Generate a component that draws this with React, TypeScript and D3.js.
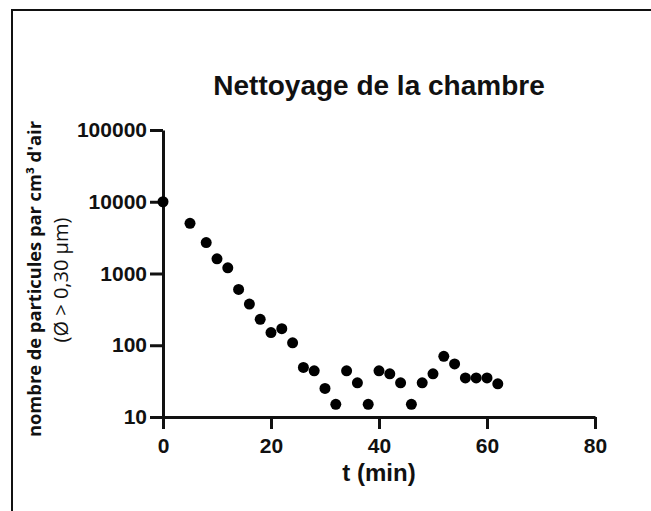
import * as d3 from "d3";
import React, { useEffect, useRef } from "react";

// temps (min) et nombre de particules mesurées
const times = [0, 5, 8, 10, 12, 14, 16, 18, 20, 22, 24, 26, 28, 30, 32, 34, 36, 38, 40, 42, 44, 46, 48, 50, 52, 54, 56, 58, 60, 62];
const counts = [10000, 5000, 2700, 1600, 1200, 600, 375, 230, 150, 170, 108, 49, 44, 25, 15, 44, 30, 15, 44, 40, 30, 15, 30, 40, 70, 55, 35, 35, 35, 29];

const xTicks = [0, 20, 40, 60, 80];
const yTicks = [10, 100, 1000, 10000, 100000];

const title = "Nettoyage de la chambre";
const xLabel = "t (min)";
const yLabel = "nombre de particules par cm³ d'air";
const yLabel2 = "(Ø > 0,30 µm)";

const width = 651;
const height = 511;
const margin = { top: 130, right: 56, bottom: 94, left: 163 };

const App: React.FC = () => {
  const svgRef = useRef<SVGSVGElement | null>(null);

  useEffect(() => {
    const svg = d3.select(svgRef.current);
    svg.selectAll("*").remove();

    const x = d3
      .scaleLinear()
      .domain([0, 80])
      .range([margin.left, width - margin.right]);
    const y = d3
      .scaleLog()
      .domain([10, 100000])
      .range([height - margin.bottom, margin.top]);

    const font = "'Liberation Sans', Arial, sans-serif";

    // cadre
    svg
      .append("rect")
      .attr("x", 12)
      .attr("y", 10)
      .attr("width", 700)
      .attr("height", 600)
      .attr("fill", "none")
      .attr("stroke", "#111")
      .attr("stroke-width", 2);

    const xAxis = svg
      .append("g")
      .attr("transform", `translate(0,${y(10)})`)
      .call(d3.axisBottom(x).tickValues(xTicks).tickSize(12).tickPadding(9).tickSizeOuter(0));

    const yAxis = svg
      .append("g")
      .attr("transform", `translate(${x(0)},0)`)
      .call(
        d3
          .axisLeft(y)
          .tickValues(yTicks)
          .tickFormat(d3.format("d"))
          .tickSize(13)
          .tickPadding(3)
          .tickSizeOuter(0)
      );

    [xAxis, yAxis].forEach((g) => {
      g.select(".domain").attr("stroke", "#111").attr("stroke-width", 3);
      g.selectAll(".tick line").attr("stroke", "#111").attr("stroke-width", 3);
      g.selectAll(".tick text")
        .attr("fill", "#111")
        .style("font-family", font)
        .style("font-weight", "bold")
        .style("font-size", "21px");
    });
    xAxis.selectAll(".tick text").attr("dy", "0.72em");

    svg
      .append("g")
      .selectAll("circle")
      .data(times)
      .join("circle")
      .attr("cx", (d) => x(d))
      .attr("cy", (d, i) => y(counts[i]))
      .attr("r", 5.5)
      .attr("fill", "#000");

    svg
      .append("text")
      .attr("x", (x(0) + x(80)) / 2)
      .attr("y", 95)
      .attr("text-anchor", "middle")
      .style("font-family", font)
      .style("font-weight", "bold")
      .style("font-size", "28px")
      .attr("fill", "#111")
      .text(title);

    svg
      .append("text")
      .attr("x", (x(0) + x(80)) / 2)
      .attr("y", 481)
      .attr("text-anchor", "middle")
      .style("font-family", font)
      .style("font-weight", "bold")
      .style("font-size", "24px")
      .attr("fill", "#111")
      .text(xLabel);

    svg
      .append("text")
      .attr("transform", "translate(41,279) rotate(-90)")
      .attr("text-anchor", "middle")
      .style("font-family", "'Open Sans', sans-serif")
      .style("font-weight", "bold")
      .style("font-size", "18.3px")
      .attr("fill", "#111")
      .text(yLabel);

    svg
      .append("text")
      .attr("transform", "translate(68,280) rotate(-90)")
      .attr("text-anchor", "middle")
      .style("font-family", "'Open Sans', sans-serif")
      .style("font-size", "20px")
      .attr("fill", "#111")
      .text(yLabel2);
  }, []);

  return (
    <svg
      ref={svgRef}
      width={width}
      height={height}
      style={{ position: "absolute", left: 0, top: 0, background: "#fff" }}
    ></svg>
  );
};

export default App;
